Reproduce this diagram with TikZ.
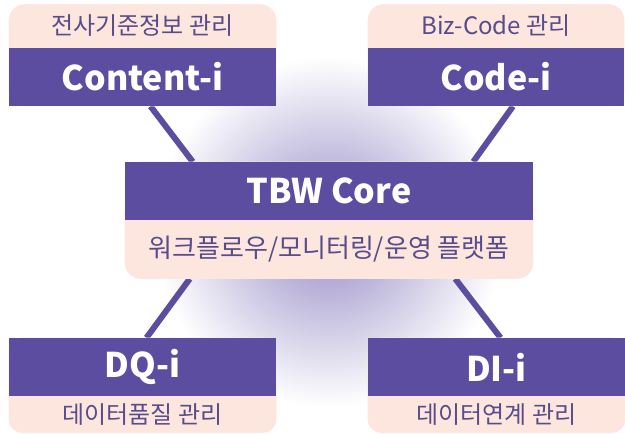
\documentclass[tikz,border=0pt]{standalone}
\usepackage{fontspec}
\setmainfont{Noto Sans CJK KR}
\usepackage{xcolor}
\usepackage{tikz}
\usetikzlibrary{positioning,calc,backgrounds}

\definecolor{boxpurple}{RGB}{92,77,160}
\definecolor{notepink}{RGB}{253,230,222}
\definecolor{notetext}{RGB}{88,76,138}
\definecolor{glowpurple}{RGB}{172,163,210}

\pgfdeclareradialshading{coreglow}{\pgfpoint{0bp}{0bp}}{color(0bp)=(glowpurple); color(5bp)=(glowpurple); color(25bp)=(white); color(50bp)=(white)}

\tikzset{
    band/.style={fill=boxpurple, text=white, font=\bfseries\fontsize{25.5}{27}\selectfont, inner sep=0pt, minimum height=43.5pt},
    note/.style={text=notetext, font=\fontsize{18}{20}\selectfont, inner sep=0pt},
    link/.style={boxpurple, line width=4.5pt},
}

\begin{document}
\begin{tikzpicture}[x=0.75pt, y=-0.75pt]
    \useasboundingbox (0,0) rectangle (625,433);

    % Modules
    \node[band, minimum width=200.25pt] (content) at (142.5,77) {Content-i};
    \node[note, minimum width=200.25pt, minimum height=32.25pt, above=0pt of content] (contentnote) {전사기준정보 관리};
    \node[band, minimum width=192pt] (code) at (496,77) {Code-i};
    \node[note, minimum width=192pt, minimum height=32.25pt, above=0pt of code] (codenote) {Biz-Code 관리};

    % Core
    \node[band, minimum width=306pt] (core) at (329,191) {TBW Core};
    \node[note, minimum width=306pt, minimum height=43.5pt, below=0pt of core, font=\fontsize{19.5}{21}\selectfont] (corenote) {워크플로우/모니터링/운영 플랫폼};

    % Data modules
    \node[band, minimum width=200.25pt] (dq) at (142.5,367) {DQ-i};
    \node[note, minimum width=200.25pt, minimum height=27pt, below=0pt of dq] (dqnote) {데이터품질 관리};
    \node[band, minimum width=192.75pt] (di) at (496.5,367) {DI-i};
    \node[note, minimum width=192.75pt, minimum height=27pt, below=0pt of di] (dinote) {데이터연계 관리};

    \begin{scope}[on background layer]
        % Glow
        \shade[shading=coreglow] (329,232) circle (175);

        % Links
        \draw[link] ($(content.south)+(8,0)$) -- ($(core.north west)+(68,0)$);
        \draw[link] ($(code.south)+(17,0)$) -- ($(core.north east)+(-60,0)$);
        \draw[link] ($(corenote.south west)+(65,0)$) -- ($(dq.north)+(4,0)$);
        \draw[link] ($(corenote.south east)+(-78,0)$) -- ($(di.north)+(4,0)$);

        % Pink panels
        \fill[notepink, rounded corners=12pt] (contentnote.north west) rectangle (content.south east);
        \fill[notepink, rounded corners=12pt] (codenote.north west) rectangle (code.south east);
        \fill[notepink, rounded corners=12pt] (core.north west) rectangle (corenote.south east);
        \fill[notepink, rounded corners=10pt] (dq.north west) rectangle (dqnote.south east);
        \fill[notepink, rounded corners=10pt] (di.north west) rectangle (dinote.south east);
    \end{scope}
\end{tikzpicture}
\end{document}
